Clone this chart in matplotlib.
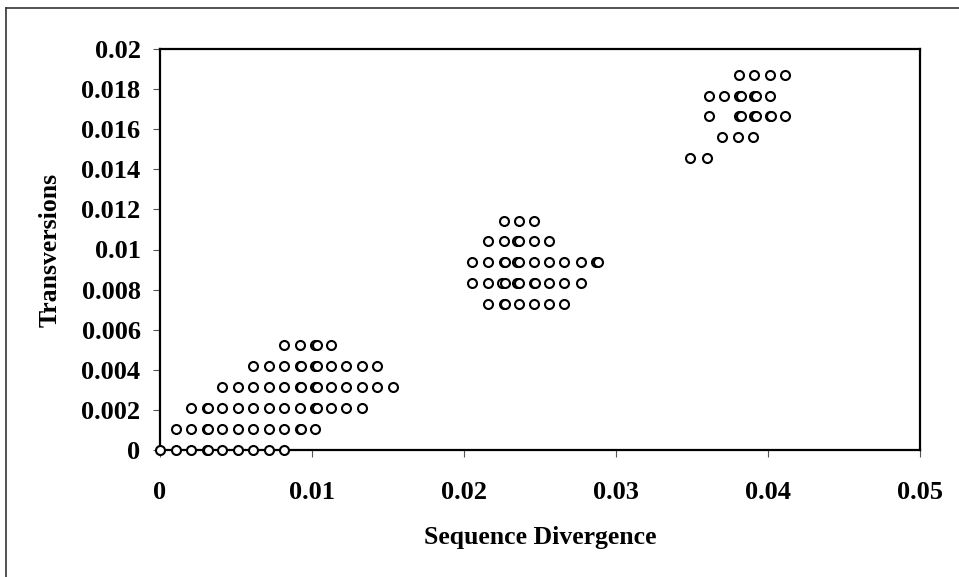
import matplotlib
matplotlib.use("Agg")
import matplotlib.pyplot as plt
from matplotlib.lines import Line2D

plt.rcParams['font.family'] = ['Liberation Serif', 'DejaVu Serif']
plt.rcParams['font.weight'] = 'bold'

# lower cluster: one list of x values per transversion row
low_y = [0.0, 0.00105, 0.0021, 0.00315, 0.0042, 0.00525]
low_x = [
    [0.0, 0.00102, 0.00204, 0.00306, 0.00316, 0.00408, 0.0051, 0.00612, 0.00714, 0.00816],
    [0.00102, 0.00204, 0.00306, 0.00316, 0.00408, 0.0051, 0.00612, 0.00714, 0.00816,
     0.00918, 0.00928, 0.0102],
    [0.00204, 0.00306, 0.00316, 0.00408, 0.0051, 0.00612, 0.00714, 0.00816, 0.00918,
     0.0102, 0.0103, 0.01122, 0.01224, 0.01326],
    [0.00408, 0.0051, 0.00612, 0.00714, 0.00816, 0.00918, 0.00928, 0.0102, 0.0103,
     0.01122, 0.01224, 0.01326, 0.01428, 0.0153],
    [0.00612, 0.00714, 0.00816, 0.00918, 0.00928, 0.0102, 0.0103, 0.01122, 0.01224,
     0.01326, 0.01428],
    [0.00816, 0.00918, 0.0102, 0.0103, 0.01122],
]

# middle cluster
mid_y = [0.00728, 0.00832, 0.00936, 0.0104, 0.01144]
mid_x = [
    [0.0216, 0.0226, 0.0227, 0.0236, 0.0246, 0.0256, 0.0266],
    [0.0205, 0.0216, 0.0225, 0.0227, 0.0235, 0.0236, 0.0246, 0.0247, 0.0256, 0.0266, 0.0277],
    [0.0205, 0.0216, 0.0226, 0.0227, 0.0235, 0.0236, 0.0246, 0.0256, 0.0266, 0.0277,
     0.0287, 0.0288],
    [0.0216, 0.0226, 0.0235, 0.0236, 0.0246, 0.0256],
    [0.0226, 0.0236, 0.0246],
]

# upper cluster
up_y = [0.01456, 0.0156, 0.01664, 0.01768, 0.01872]
up_x = [
    [0.0349, 0.0360],
    [0.0370, 0.0380, 0.0390],
    [0.0361, 0.0381, 0.0382, 0.0391, 0.0392, 0.0401, 0.0402, 0.0411],
    [0.0361, 0.0371, 0.0381, 0.0382, 0.0391, 0.0392, 0.0401],
    [0.0381, 0.0391, 0.0401, 0.0411],
]

xs, ys = [], []
for rows_y, rows_x in [(low_y, low_x), (mid_y, mid_x), (up_y, up_x)]:
    for yv, row in zip(rows_y, rows_x):
        xs += row
        ys += [yv] * len(row)

fig = plt.figure(figsize=(9.59, 5.77), dpi=100)
ax = fig.add_axes([160 / 959, 1 - 450 / 577, 760 / 959, 401 / 577])

ax.scatter(xs, ys, s=42, facecolors='white', edgecolors='black',
           linewidths=1.5, zorder=3, clip_on=False)

ax.set_xlim(0, 0.05)
ax.set_ylim(0, 0.02)
ax.set_xticks([0, 0.01, 0.02, 0.03, 0.04, 0.05])
ax.set_xticklabels(['0', '0.01', '0.02', '0.03', '0.04', '0.05'])
ax.set_yticks([0, 0.002, 0.004, 0.006, 0.008, 0.01, 0.012, 0.014, 0.016, 0.018, 0.02])
ax.set_yticklabels(['0', '0.002', '0.004', '0.006', '0.008', '0.01', '0.012',
                    '0.014', '0.016', '0.018', '0.02'])

for sp in ax.spines.values():
    sp.set_linewidth(1.6)
    sp.set_color('black')

ax.tick_params(axis='both', direction='out', length=5, width=0.8, color='#555555',
               labelsize=19)
ax.tick_params(axis='x', pad=17)
ax.tick_params(axis='y', pad=9)
for lab in ax.get_xticklabels() + ax.get_yticklabels():
    lab.set_fontweight('bold')

ax.set_xlabel('Sequence Divergence', fontsize=18.5, fontweight='bold', va='center')
ax.xaxis.set_label_coords(0.5, -0.217)
ax.set_ylabel('Transversions', fontsize=18.5, fontweight='bold', va='center')
ax.yaxis.set_label_coords(-0.144, 0.5)

# outer frame (only top and left edges visible)
fig.add_artist(Line2D([6 / 959, 1.0], [1 - 7.5 / 577] * 2, transform=fig.transFigure,
                      color='#333333', lw=1.2))
fig.add_artist(Line2D([6 / 959] * 2, [0, 1 - 7.5 / 577], transform=fig.transFigure,
                      color='#333333', lw=1.2))

fig.savefig('out.png', dpi=100)
